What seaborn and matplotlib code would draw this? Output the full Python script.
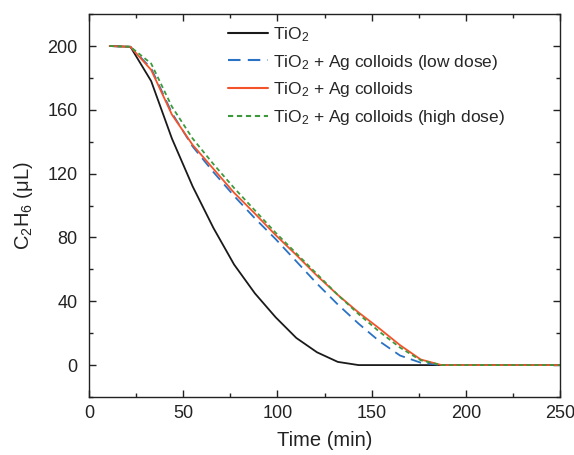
import numpy as np
import pandas as pd
import matplotlib
matplotlib.use('Agg')
import matplotlib.pyplot as plt
from matplotlib.ticker import MultipleLocator
import seaborn as sns

# sampling times (min) and C2H6 amounts (uL)
time = [11, 22, 33, 44, 55, 66, 77, 88, 99, 110, 121, 132, 143, 154,
        165, 176, 187, 198, 209, 220, 231, 242, 253]
tio2 = [200, 199.5, 178, 142, 112, 86, 63, 45, 30, 17, 8, 2, 0, 0,
        0, 0, 0, 0, 0, 0, 0, 0, 0]
ag_low = [200, 199.5, 186, 158, 137, 121, 106, 92, 79, 65, 51, 38, 26, 15,
          6, 1.5, 0, 0, 0, 0, 0, 0, 0]
ag_mid = [200, 199.5, 185, 157, 138, 123, 108, 95, 81.5, 69, 56, 44, 33, 23,
          12.5, 3.5, 0, 0, 0, 0, 0, 0, 0]
ag_high = [200, 199.5, 189, 162, 142, 126, 111, 97, 83, 70, 57, 44, 32, 21,
           11, 3, 0, 0, 0, 0, 0, 0, 0]

labels = ['TiO$_2$',
          'TiO$_2$ + Ag colloids (low dose)',
          'TiO$_2$ + Ag colloids',
          'TiO$_2$ + Ag colloids (high dose)']
colors = ['#1a1a1a', '#2a72c4', '#f4522a', '#3c9a3c']
dash_styles = ['', (6, 3.5), '', (2.5, 1.8)]

df = pd.concat([
    pd.DataFrame({'Time': time, 'C2H6': vals, 'Sample': lab})
    for lab, vals in zip(labels, [tio2, ag_low, ag_mid, ag_high])
], ignore_index=True)

sns.set_style('ticks')
plt.rcParams['font.family'] = ['Liberation Sans', 'DejaVu Sans']
plt.rcParams['mathtext.fontset'] = 'custom'
plt.rcParams['mathtext.rm'] = 'Liberation Sans'
plt.rcParams['mathtext.it'] = 'Liberation Sans:italic'
plt.rcParams['mathtext.default'] = 'regular'

fig = plt.figure(figsize=(5.74, 4.55), dpi=100)
ax = fig.add_axes([0.155, 0.1275, 0.821, 0.8415])

sns.lineplot(data=df, x='Time', y='C2H6', hue='Sample', style='Sample',
             hue_order=labels, style_order=labels,
             palette=dict(zip(labels, colors)),
             dashes=dict(zip(labels, dash_styles)),
             linewidth=1.3, ax=ax)

ax.set_xlim(0, 250)
ax.set_ylim(-20, 220)
ax.xaxis.set_major_locator(MultipleLocator(50))
ax.xaxis.set_minor_locator(MultipleLocator(25))
ax.yaxis.set_minor_locator(MultipleLocator(20))
ax.set_yticks(range(0, 201, 40))
ax.tick_params(which='both', direction='in', top=True, right=True,
               labelsize=13, colors='#222222', width=1)
ax.tick_params(which='major', length=5)
ax.tick_params(which='minor', length=3)
ax.tick_params(axis='x', which='major', pad=6)
ax.tick_params(axis='y', which='major', pad=8)
for sp in ax.spines.values():
    sp.set_linewidth(1)
    sp.set_color('#222222')

ax.set_xlabel('Time (min)', fontsize=14.5, color='#222222', labelpad=6)
ax.set_ylabel('C$_2$H$_6$ (μL)', fontsize=14.5, color='#222222', labelpad=9)

leg = ax.legend(loc='upper left', bbox_to_anchor=(0.262, 1.012), frameon=False,
                fontsize=12.5, handlelength=2.3, handletextpad=0.3,
                labelspacing=0.5)
for h in leg.get_lines():
    h.set_linewidth(1.5)

fig.savefig('out.png', dpi=100)
